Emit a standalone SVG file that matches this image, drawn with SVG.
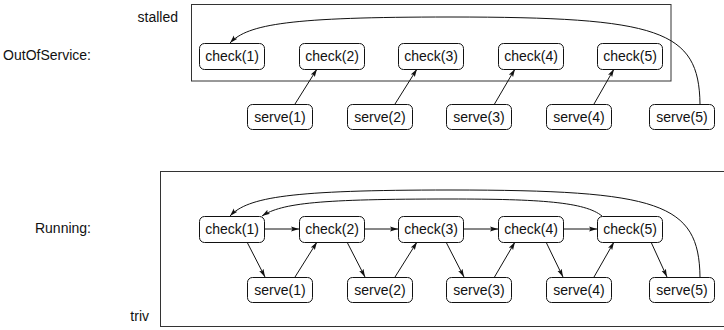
<svg xmlns="http://www.w3.org/2000/svg" width="724" height="330" viewBox="0 0 724 330">
  <defs>
    <marker id="arrow" viewBox="0 0 8 6" refX="8" refY="3" markerWidth="8" markerHeight="6" markerUnits="userSpaceOnUse" orient="auto">
      <path d="M0,0.6 L8,3 L0,5.4 L1.6,3 Z" fill="#111"/>
    </marker>
    <style>
      .lbl { font-family: "Liberation Sans", Arial, sans-serif; font-size: 14px; fill: #111; }
      .node rect { fill: #fff; stroke: #111; stroke-width: 1; }
      .node text { font-family: "Liberation Sans", Arial, sans-serif; font-size: 14px; fill: #111; text-anchor: middle; }
      .frame { fill: none; stroke: #333; stroke-width: 1; }
      .edges path { fill: none; stroke: #111; stroke-width: 1; marker-end: url(#arrow); }
    </style>
  </defs>
  <rect width="724" height="330" fill="#fff"/>

  <!-- section labels -->
  <text class="lbl" x="178" y="21.5" text-anchor="end">stalled</text>
  <text class="lbl" x="91" y="60" text-anchor="end">OutOfService:</text>
  <text class="lbl" x="91" y="233" text-anchor="end">Running:</text>
  <text class="lbl" x="149" y="320.5" text-anchor="end">triv</text>

  <!-- frames -->
  <rect class="frame" x="191.5" y="4.5" width="479.5" height="76.5"/>
  <rect class="frame" x="160.5" y="171.5" width="570" height="155"/>

  <!-- OutOfService: connectors -->
  <g id="edges-stalled" class="edges">
    <path d="M700,104 C699,30 660,17 450,17 C290,17 248,24 230,43"/>
    <path d="M295,104 L317,69"/>
    <path d="M395,104 L417,69"/>
    <path d="M494.5,104 L515,69"/>
    <path d="M594,104 L614,69"/>
  </g>

  <!-- OutOfService: nodes -->
  <g id="s-check1" class="node"><rect x="199.5" y="43.5" width="65" height="26" rx="5"/><text x="232" y="61">check(1)</text></g>
  <g id="s-check2" class="node"><rect x="299.5" y="43.5" width="65" height="26" rx="5"/><text x="332" y="61">check(2)</text></g>
  <g id="s-check3" class="node"><rect x="398.5" y="43.5" width="65" height="26" rx="5"/><text x="431" y="61">check(3)</text></g>
  <g id="s-check4" class="node"><rect x="498.5" y="43.5" width="65" height="26" rx="5"/><text x="531" y="61">check(4)</text></g>
  <g id="s-check5" class="node"><rect x="597.5" y="43.5" width="65" height="26" rx="5"/><text x="630" y="61">check(5)</text></g>
  <g id="s-serve1" class="node"><rect x="247.5" y="104.5" width="65" height="25" rx="5"/><text x="280" y="122">serve(1)</text></g>
  <g id="s-serve2" class="node"><rect x="347.5" y="104.5" width="65" height="25" rx="5"/><text x="380" y="122">serve(2)</text></g>
  <g id="s-serve3" class="node"><rect x="446.5" y="104.5" width="65" height="25" rx="5"/><text x="479" y="122">serve(3)</text></g>
  <g id="s-serve4" class="node"><rect x="546.5" y="104.5" width="65" height="25" rx="5"/><text x="579" y="122">serve(4)</text></g>
  <g id="s-serve5" class="node"><rect x="649.5" y="104.5" width="65" height="25" rx="5"/><text x="682" y="122">serve(5)</text></g>

  <!-- Running: connectors -->
  <g id="edges-triv" class="edges">
    <path d="M700,277 C699,203 660,190 450,190 C290,190 248,197 230,216"/>
    <path d="M602,216 C585,202 540,199 450,199 C320,199 282,203 262,216"/>
    <path d="M265,229 L299,229"/>
    <path d="M365,229 L398,229"/>
    <path d="M464,229 L498,229"/>
    <path d="M564,229 L597,229"/>
    <path d="M247,242 L265,277"/>
    <path d="M347,242 L365,277"/>
    <path d="M446,242 L464,277"/>
    <path d="M546,242 L563,277"/>
    <path d="M651,242 L667,277"/>
    <path d="M295,277 L317,242"/>
    <path d="M395,277 L417,242"/>
    <path d="M494.5,277 L515,242"/>
    <path d="M594,277 L614,242"/>
  </g>

  <!-- Running: nodes -->
  <g id="r-check1" class="node"><rect x="199.5" y="216.5" width="65" height="26" rx="5"/><text x="232" y="234">check(1)</text></g>
  <g id="r-check2" class="node"><rect x="299.5" y="216.5" width="65" height="26" rx="5"/><text x="332" y="234">check(2)</text></g>
  <g id="r-check3" class="node"><rect x="398.5" y="216.5" width="65" height="26" rx="5"/><text x="431" y="234">check(3)</text></g>
  <g id="r-check4" class="node"><rect x="498.5" y="216.5" width="65" height="26" rx="5"/><text x="531" y="234">check(4)</text></g>
  <g id="r-check5" class="node"><rect x="597.5" y="216.5" width="65" height="26" rx="5"/><text x="630" y="234">check(5)</text></g>
  <g id="r-serve1" class="node"><rect x="247.5" y="277.5" width="65" height="25" rx="5"/><text x="280" y="295">serve(1)</text></g>
  <g id="r-serve2" class="node"><rect x="347.5" y="277.5" width="65" height="25" rx="5"/><text x="380" y="295">serve(2)</text></g>
  <g id="r-serve3" class="node"><rect x="446.5" y="277.5" width="65" height="25" rx="5"/><text x="479" y="295">serve(3)</text></g>
  <g id="r-serve4" class="node"><rect x="546.5" y="277.5" width="65" height="25" rx="5"/><text x="579" y="295">serve(4)</text></g>
  <g id="r-serve5" class="node"><rect x="649.5" y="277.5" width="65" height="25" rx="5"/><text x="682" y="295">serve(5)</text></g>
</svg>
